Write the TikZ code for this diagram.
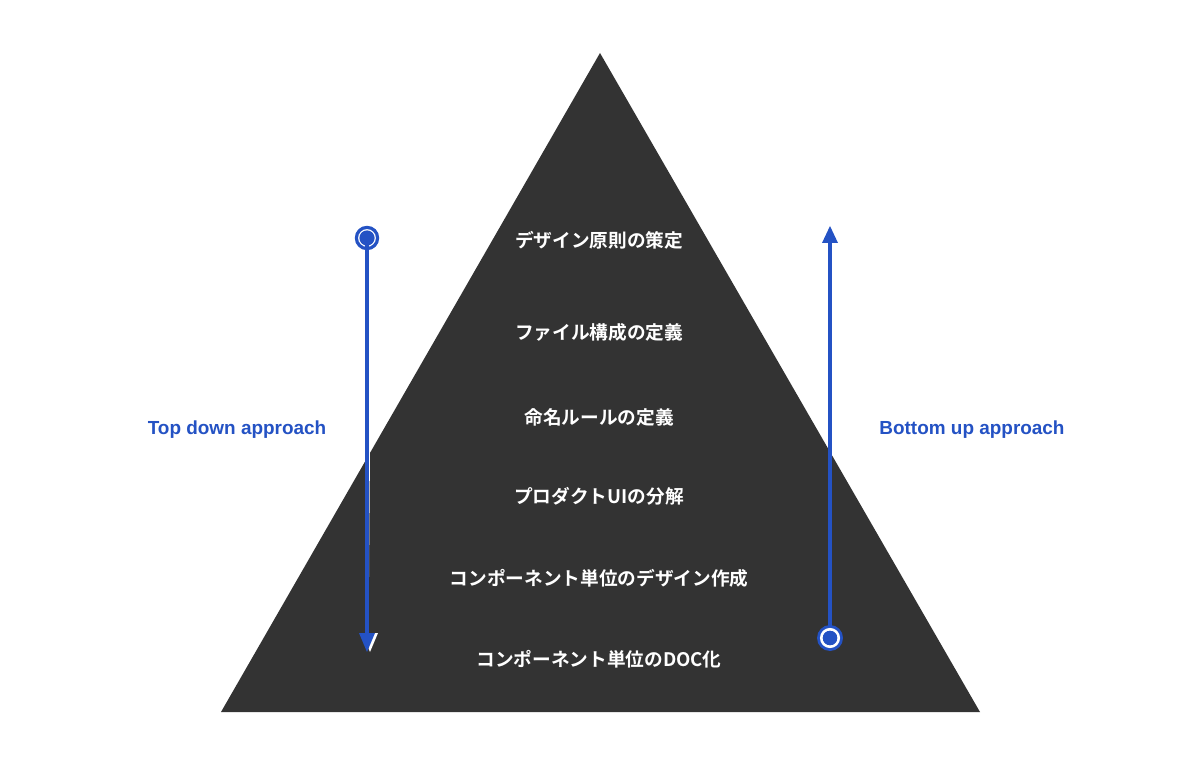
\documentclass[tikz,border=0pt]{standalone}
\usepackage{fontspec}
\setmainfont{Liberation Sans}
\newfontfamily\jp{Noto Sans CJK JP}[BoldFont={* Bold}]
\definecolor{pyr}{RGB}{51,51,51}
\definecolor{bl}{RGB}{36,82,196}
\tikzset{
  stagetext/.style={text=white,font=\jp\bfseries\fontsize{14pt}{16pt}\selectfont,inner sep=0pt},
  side/.style={text=bl,font=\bfseries\fontsize{14.2pt}{16pt}\selectfont,inner sep=0pt},
  bline/.style={draw=bl,line width=2.3pt},
  wline/.style={draw=white,line width=2.3pt},
}
\begin{document}
\begin{tikzpicture}[x=0.75pt,y=-0.75pt]
\useasboundingbox[fill=white] (0,0) rectangle (1200,784);
\fill[pyr] (600,53) -- (980,712) -- (221,712) -- cycle;
\node[stagetext] (s1) at (599,240) {デザイン原則の策定};
\node[stagetext] (s2) at (599,332) {ファイル構成の定義};
\node[stagetext] (s3) at (599,417) {命名ルールの定義};
\node[stagetext] (s4) at (599,496) {プロダクトUIの分解};
\node[stagetext] (s5) at (599,578) {コンポーネント単位のデザイン作成};
\node[stagetext] (s6) at (599,659) {コンポーネント単位のDOC化};
\node[side] (td) at (237,429.5) {Top down approach};
\node[side] (bu) at (972,429.5) {Bottom up approach};
% left arrow (top down)
\coordinate (ls) at (367,238);
\coordinate (le) at (367,636);
\begin{scope}[xshift=2.25pt]
\draw[wline] (367,252) -- (le);
\fill[white] (359,633) -- (375,633) -- (367,652) -- cycle;
\end{scope}
\fill[white] (ls) circle[radius=13];
\draw[bl,line width=2.4pt] (ls) circle[radius=10.6];
\fill[bl] (ls) circle[radius=7.6];
\draw[bline] (ls) -- (le);
\fill[bl] (359,633) -- (375,633) -- (367,652) -- cycle;
% right arrow (bottom up)
\coordinate (rs) at (830,638);
\coordinate (re) at (830,240);
\begin{scope}[xshift=-2.25pt]
\draw[wline] (rs) -- (re);
\end{scope}
\draw[bline] (rs) -- (re);
\fill[bl] (822,243) -- (838,243) -- (830,226) -- cycle;
\fill[bl] (rs) circle[radius=13];
\draw[white,line width=2pt] (rs) circle[radius=8.7];
\fill[bl] (rs) circle[radius=7.2];
\end{tikzpicture}
\end{document}
